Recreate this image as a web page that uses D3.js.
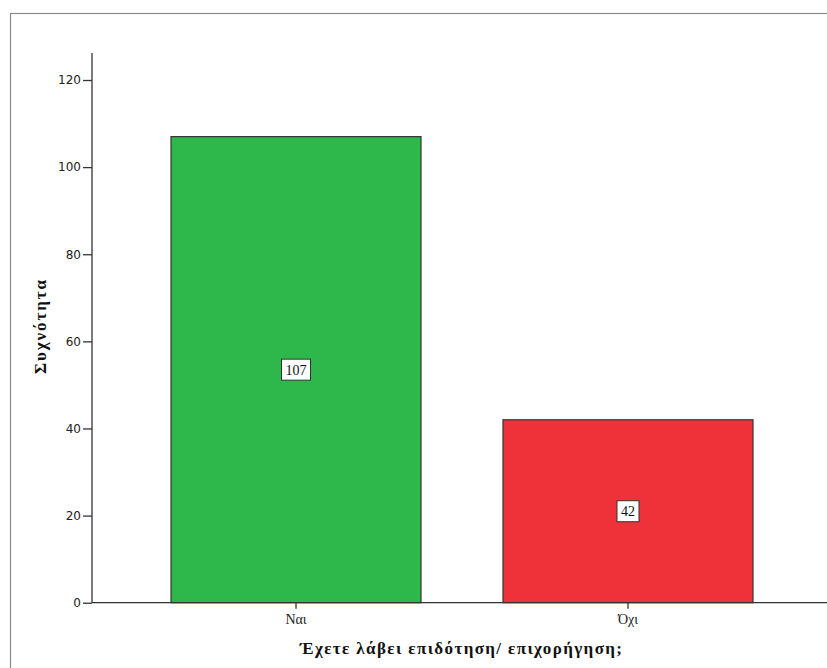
<!DOCTYPE html>
<html>
<head>
<meta charset="utf-8">
<script src="https://cdn.jsdelivr.net/npm/d3@7"></script>
<style>
  html, body { margin: 0; padding: 0; background: #fff; }
  svg { display: block; }
</style>
</head>
<body>
<svg id="chart" width="827" height="668"></svg>
<script>
const categories = ["Ναι", "Όχι"];
const counts = [107, 42];
const barColors = ["#2eb84b", "#ef323a"];
const yTicks = [0, 20, 40, 60, 80, 100, 120];
const yTitle = "Συχνότητα";
const xTitle = "Έχετε λάβει επιδότηση/ επιχορήγηση;";

const svg = d3.select("#chart");

// outer frame
svg.append("rect")
  .attr("x", 10.5).attr("y", 13.5)
  .attr("width", 830).attr("height", 670)
  .attr("fill", "none").attr("stroke", "#8a8a8a").attr("stroke-width", 1.2);

const x0 = 92, yBase = 602.7;
const y = d3.scaleLinear().domain([0, 120]).range([yBase, 80]);
const x = d3.scaleBand().domain(categories).range([x0, 832])
  .paddingInner(0.247).paddingOuter(0.238);

// bars
const g = svg.append("g");
g.selectAll("rect.bar").data(categories).join("rect")
  .attr("class", "bar")
  .attr("x", d => x(d))
  .attr("y", (d, i) => y(counts[i]))
  .attr("width", x.bandwidth())
  .attr("height", (d, i) => y(0) - y(counts[i]))
  .attr("fill", (d, i) => barColors[i])
  .attr("stroke", "#333").attr("stroke-width", 1.2);

// value labels
const lab = g.selectAll("g.lab").data(categories).join("g")
  .attr("class", "lab")
  .attr("transform", (d, i) => `translate(${x(d) + x.bandwidth() / 2},${(y(counts[i]) + y(0)) / 2})`);
lab.append("rect")
  .attr("x", (d, i) => counts[i] >= 100 ? -14.5 : -11)
  .attr("y", -10.5)
  .attr("width", (d, i) => counts[i] >= 100 ? 29 : 22)
  .attr("height", 21)
  .attr("fill", "#fff").attr("stroke", "#333").attr("stroke-width", 1);
lab.append("text")
  .attr("text-anchor", "middle").attr("dy", "0.36em")
  .attr("font-family", "'Liberation Serif', 'Times New Roman', serif")
  .attr("font-size", 14).attr("fill", "#111")
  .text((d, i) => counts[i]);

// y axis
const yAxis = d3.axisLeft(y).tickValues(yTicks).tickSize(9).tickPadding(2).tickFormat(d3.format("d"));
const ya = svg.append("g").attr("transform", `translate(${x0},0)`).call(yAxis);
ya.select(".domain").remove();
ya.append("line").attr("x1", 0).attr("x2", 0).attr("y1", 53).attr("y2", yBase)
  .attr("stroke", "#333").attr("stroke-width", 1.3);
ya.selectAll(".tick line").attr("stroke", "#333").attr("stroke-width", 1.3);
ya.selectAll(".tick text")
  .attr("font-family", "'DejaVu Sans', Verdana, sans-serif")
  .attr("font-size", 12).attr("fill", "#222");

// x axis
const xAxis = d3.axisBottom(x).tickSize(6).tickPadding(5);
const xa = svg.append("g").attr("transform", `translate(0,${yBase})`).call(xAxis);
xa.select(".domain").remove();
xa.append("line").attr("x1", x0).attr("x2", 827).attr("y1", 0).attr("y2", 0)
  .attr("stroke", "#333").attr("stroke-width", 1.3);
xa.selectAll(".tick line").attr("stroke", "#333").attr("stroke-width", 1.3);
xa.selectAll(".tick text")
  .attr("font-family", "'Liberation Serif', 'Times New Roman', serif")
  .attr("font-size", 14).attr("fill", "#222");

// titles
svg.append("text")
  .attr("transform", "translate(46,327) rotate(-90)")
  .attr("text-anchor", "middle")
  .attr("font-family", "'Liberation Serif', 'Times New Roman', serif")
  .attr("font-weight", "bold").attr("font-size", 17).attr("fill", "#111")
  .attr("textLength", 94).attr("lengthAdjust", "spacing")
  .text(yTitle);
svg.append("text")
  .attr("x", 461).attr("y", 654)
  .attr("text-anchor", "middle")
  .attr("font-family", "'Liberation Serif', 'Times New Roman', serif")
  .attr("font-weight", "bold").attr("font-size", 17).attr("fill", "#111")
  .attr("textLength", 322).attr("lengthAdjust", "spacing")
  .text(xTitle);
</script>
</body>
</html>
